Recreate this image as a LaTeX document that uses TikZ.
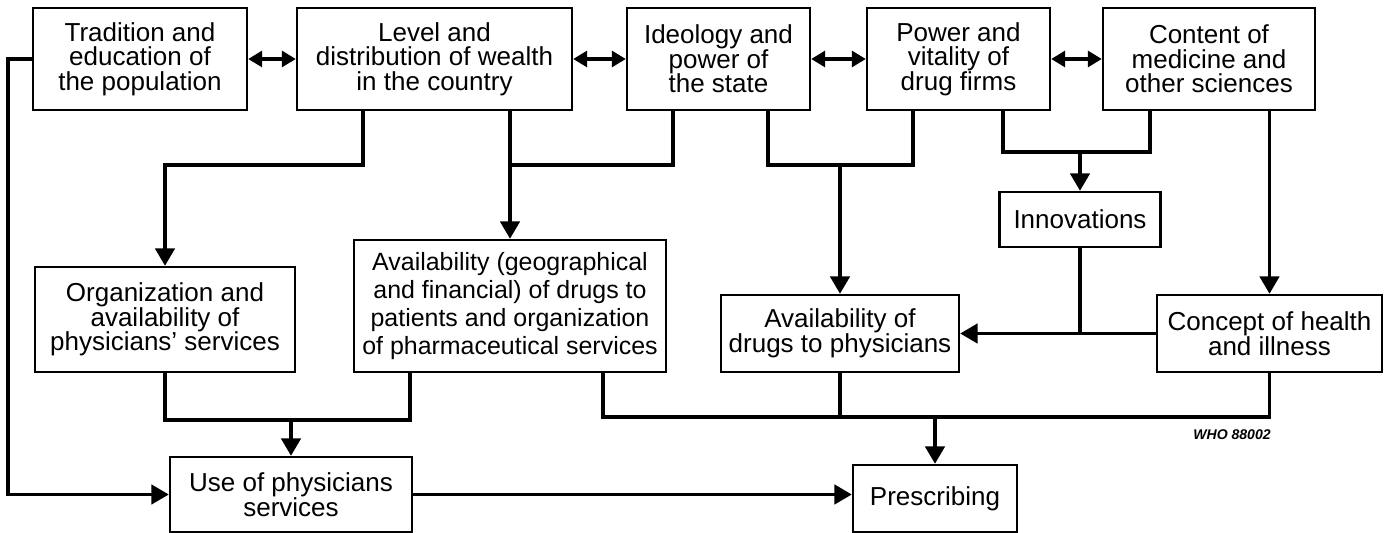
\documentclass[tikz,border=0pt]{standalone}
\usepackage{fontspec}
\setmainfont{Liberation Sans}
\usetikzlibrary{arrows.meta,calc}
\newlength\pxu
\setlength\pxu{0.02cm}
\begin{document}
\begin{tikzpicture}[x=0.02cm,y=-0.02cm,box/.style={draw,line width=1.3pt,align=center,inner sep=0pt,font=\fontsize{14.8}{14}\selectfont},boxW/.style={box,font=\fontsize{14.2}{15.8}\selectfont},link/.style={line width=2.2pt},arr/.style={link,-{Triangle[width=11pt,length=10pt]}},both/.style={link,{Triangle[width=9pt,length=8pt]}-{Triangle[width=9pt,length=8pt]}}]
\def\hTop{102};
\def\yTop{59};

\useasboundingbox (0,0) rectangle (1384,533);

%TOP ROW
\node[box,minimum width=214\pxu,minimum height=\hTop\pxu] (trad) at (140,\yTop) {Tradition and\\education of\\the population};
\node[box,minimum width=275\pxu,minimum height=\hTop\pxu] (wealth) at (434.5,\yTop) {Level and\\distribution of wealth\\in the country};
\node[box,minimum width=183\pxu,minimum height=\hTop\pxu] (state) at (718.5,\yTop) {Ideology and\\power of\\the state};
\node[box,minimum width=183\pxu,minimum height=\hTop\pxu] (firms) at (958.5,\yTop) {Power and\\vitality of\\drug firms};
\node[box,minimum width=212\pxu,minimum height=\hTop\pxu] (science) at (1209,\yTop) {Content of\\medicine and\\other sciences};
\draw[both] (trad.east) -- (wealth.west);
\draw[both] (wealth.east) -- (state.west);
\draw[both] (state.east) -- (firms.west);
\draw[both] (firms.east) -- (science.west);

%MIDDLE ROW
\node[box,minimum width=161\pxu,minimum height=55\pxu] (innov) at (1080,219.5) {Innovations};
\node[box,minimum width=260\pxu,minimum height=105\pxu] (org) at (165,319.5) {Organization and\\availability of\\physicians' services};
\node[boxW,minimum width=312\pxu,minimum height=132\pxu] (availpat) at (510,306) {Availability (geographical\\and financial) of drugs to\\patients and organization\\of pharmaceutical services};
\node[box,minimum width=238\pxu,minimum height=77\pxu] (availdoc) at (840,333.5) {Availability of\\drugs to physicians};
\node[box,minimum width=225\pxu,minimum height=77\pxu] (concept) at (1269.5,333.5) {Concept of health\\and illness};

%BOTTOM ROW
\node[box,minimum width=242\pxu,minimum height=75\pxu] (use) at (291,494.5) {Use of physicians\\services};
\node[box,minimum width=164\pxu,minimum height=67\pxu] (prescr) at (935,498.5) {Prescribing};
\node[font=\fontsize{8}{9.6}\selectfont\bfseries\itshape] (code) at (1232,435) {WHO 88002};

%JUNCTIONS
\coordinate (lft) at (8,\yTop);
\coordinate (j1) at (510,165);
\coordinate (j2) at (840,165);
\coordinate (j3) at (1080,152);
\coordinate (j4) at (291,420);
\coordinate (j5) at (935,417);

\draw[arr] (trad.west) -- (lft) |- (use.west);
\draw[arr] ($(wealth.south)+(-71.5,0)$) |- (org.north |- j1) -- (org.north);
\draw[link] (wealth.south -| j1) -- (j1) -| ($(state.south)+(-45.5,0)$);
\draw[arr] (j1) -- (availpat.north);
\draw[link] ($(state.south)+(49.5,0)$) |- (j2) -| ($(firms.south)+(-45.5,0)$);
\draw[arr] (j2) -- (availdoc.north);
\draw[link] ($(firms.south)+(44.5,0)$) |- (j3) -| ($(science.south)+(-59,0)$);
\draw[arr] (j3) -- (innov.north);
\draw[arr] (science.south -| concept.north) -- (concept.north);
\draw[link] (innov.south) -- (innov.south |- concept.west);
\draw[arr] (concept.west) -- (availdoc.east);
\draw[link] (org.south) |- (j4) -| ($(availpat.south)+(-100,0)$);
\draw[arr] (j4) -- (use.north);
\draw[link] ($(availpat.south)+(93,0)$) |- (j5) -| (concept.south);
\draw[link] (availdoc.south) -- (availdoc.south |- j5);
\draw[arr] (j5) -- (prescr.north);
\draw[arr] (use.east) -- (use.east -| prescr.west);
\end{tikzpicture}
\end{document}
